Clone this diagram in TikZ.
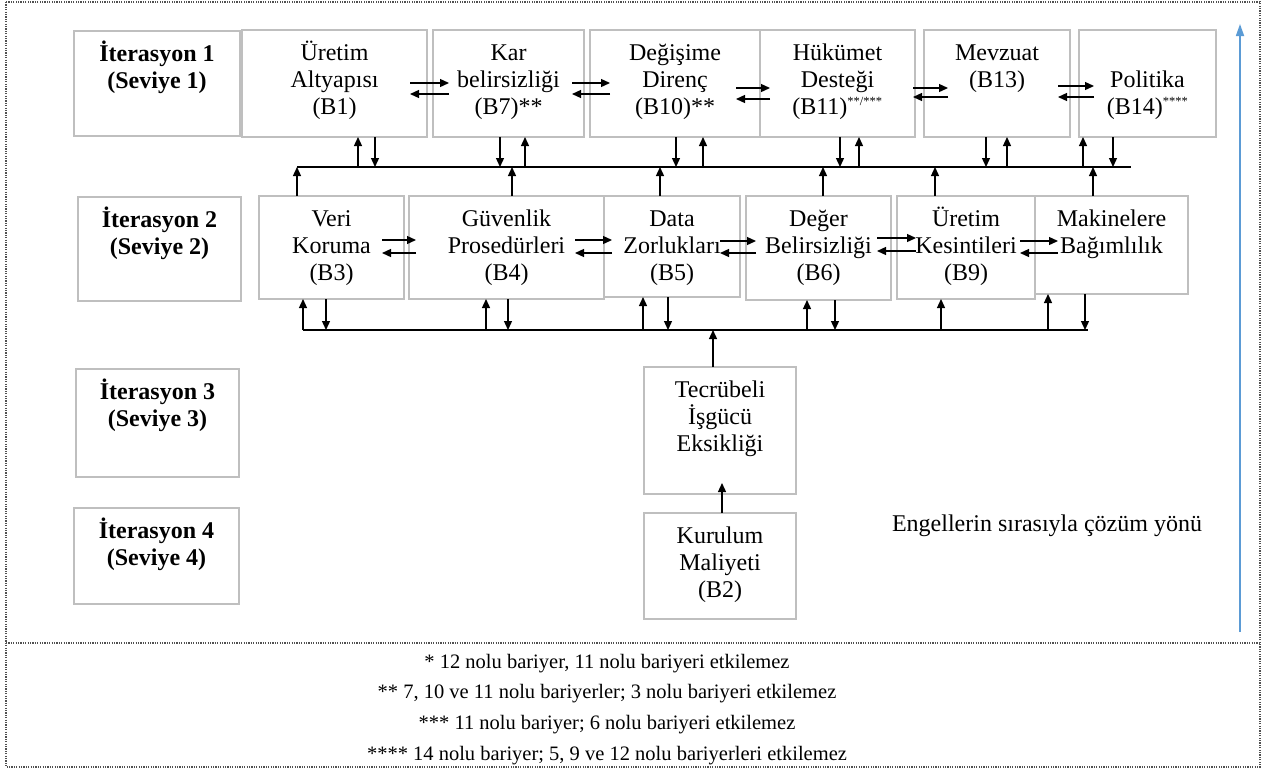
\documentclass[tikz,border=0pt]{standalone}
\usepackage{fontspec}
\setmainfont{Liberation Serif}
\usetikzlibrary{arrows.meta,calc}
\definecolor{boxgray}{RGB}{191,191,191}
\definecolor{dotgray}{RGB}{80,80,80}
\definecolor{upblue}{RGB}{91,155,213}
\newcommand\mfs{\fontsize{24}{27.3}\selectfont}
\newcommand\ffs{\fontsize{20.5}{30.6}\selectfont}
\newcommand\sst[1]{\textsuperscript{\fontsize{12.5}{12.5}\selectfont #1}}
% box: [style]{name}{x}{y}{w}{h}{text}
\newcommand\bx[7][box]{\node[#1] (#2) at (#3,#4) {\parbox[c][#6pt][t]{#5pt}{\centering\rule{0pt}{30pt}#7}};}
% pair of horizontal arrows between two neighbouring boxes
\newcommand\hpair[6]{%
  \path (0,#3) coordinate (hy1) (0,#4) coordinate (hy2);
  \draw[arr] ($(#1.east |- hy1)+(-#5,0)$) -- ($(#2.west |- hy1)+(#6,0)$);
  \draw[arr] ($(#2.west |- hy2)+(#6,0)$) -- ($(#1.east |- hy2)+(-#5,0)$);}
% vertical arrows
\newcommand\vdn[3]{\path (#2,0) coordinate (vx); \draw[arr] (vx |- #1.south) -- (vx |- #3);}
\newcommand\vup[3]{\path (#2,0) coordinate (vx); \draw[arr] (vx |- #3) -- (vx |- #1.south);}
\newcommand\vupn[3]{\path (#2,0) coordinate (vx); \draw[arr] (vx |- #1.north) -- (vx |- #3);}
\begin{document}
\begin{tikzpicture}[x=1pt,y=-1pt,
  box/.style={draw=boxgray,line width=1.5pt,anchor=north west,inner sep=0pt,outer sep=0pt,font=\mfs},
  lbl/.style={box,font=\mfs\bfseries},
  arr/.style={line width=1.3pt,-{Triangle[length=9pt,width=8pt]}},
  busline/.style={line width=1.5pt},
  framed/.style={draw=dotgray,line width=1.2pt,dash pattern=on 1.2pt off 1.2pt},
  bluearr/.style={draw=upblue,line width=1.6pt,-{Triangle[length=12pt,width=8pt]}}]
\useasboundingbox (0,0) rectangle (1263,769);

% outer dotted frame and separator
\draw[framed] (6,2) rectangle (1260,767);
\coordinate (sepL) at (6,643);
\coordinate (sepR) at (1260,643);
\draw[framed] (sepL) -- (sepR);

% iteration labels
\bx[lbl]{it1}{74}{31}{166}{105}{İterasyon 1\\(Seviye 1)}
\bx[lbl]{it2}{78}{197}{163}{104}{İterasyon 2\\(Seviye 2)}
\bx[lbl]{it3}{76}{369}{163}{108}{İterasyon 3\\(Seviye 3)}
\bx[lbl]{it4}{74}{508}{165}{96}{İterasyon 4\\(Seviye 4)}

% row 1
\bx{b1}{242}{30}{185}{107}{Üretim\\Altyapısı\\(B1)}
\bx{b7}{433}{30}{151}{107}{Kar\\belirsizliği\\(B7)**}
\bx{b10}{590}{30}{170}{107}{Değişime\\Direnç\\(B10)**}
\bx{b11}{760}{30}{155}{107}{Hükümet\\Desteği\\(B11)\sst{**/***}}
\bx{b13}{924}{30}{146}{107}{Mevzuat\\(B13)}
\bx{b14}{1079}{30}{137}{107}{\\Politika\\(B14)\sst{****}}

% row 2
\bx{b3}{259}{196}{145}{103}{Veri\\Koruma\\(B3)}
\bx{b4}{409}{196}{195}{103}{Güvenlik\\Prosedürleri\\(B4)}
\bx{b5}{604}{196}{136}{101}{Data\\Zorlukları\\(B5)}
\bx{b6}{746}{196}{145}{104}{Değer\\Belirsizliği\\(B6)}
\bx{b9}{897}{196}{138}{103}{Üretim\\Kesintileri\\(B9)}
\bx{mak}{1035}{196}{153}{98}{Makinelere\\Bağımlılık}

% rows 3 and 4
\bx{tec}{644}{367}{152}{127}{Tecrübeli\\İşgücü\\Eksikliği}
\bx{kur}{644}{513}{152}{106}{Kurulum\\Maliyeti\\(B2)}

% horizontal arrow pairs
\hpair{b1}{b7}{83}{94}{17}{16}
\hpair{b7}{b10}{83}{94}{12}{20}
\hpair{b10}{b11}{88}{99}{24}{10}
\hpair{b11}{b13}{88}{97}{2}{24}
\hpair{b13}{b14}{86}{97}{12}{15}
\hpair{b3}{b4}{240}{253}{22}{7}
\hpair{b4}{b5}{240}{253}{29}{8}
\hpair{b5}{b6}{241}{253}{20}{10}
\hpair{b6}{b9}{238}{251}{14}{19}
\hpair{b9}{mak}{241}{253}{15}{23}

% bus 1
\coordinate (bus1w) at (297,167);
\coordinate (bus1e) at (1131,167);
\draw[busline] (bus1w) -- (bus1e);
\vup{b1}{358}{bus1w}
\vdn{b1}{375}{bus1w}
\vdn{b7}{500}{bus1w}
\vup{b7}{525}{bus1w}
\vdn{b10}{676}{bus1w}
\vup{b10}{703}{bus1w}
\vdn{b11}{840}{bus1w}
\vup{b11}{859}{bus1w}
\vdn{b13}{986}{bus1w}
\vup{b13}{1007}{bus1w}
\vup{b14}{1083}{bus1w}
\vdn{b14}{1113}{bus1w}
\vupn{b3}{297}{bus1w}
\vupn{b4}{512}{bus1w}
\vupn{b5}{660}{bus1w}
\vupn{b6}{823}{bus1w}
\vupn{b9}{935}{bus1w}
\vupn{mak}{1093}{bus1w}

% bus 2
\coordinate (bus2w) at (303,330);
\coordinate (bus2e) at (1088,330);
\draw[busline] (bus2w) -- (bus2e);
\vup{b3}{303}{bus2w}
\vdn{b3}{326}{bus2w}
\vup{b4}{486}{bus2w}
\vdn{b4}{508}{bus2w}
\vup{b5}{643}{bus2w}
\vdn{b5}{668}{bus2w}
\vup{b6}{807}{bus2w}
\vdn{b6}{835}{bus2w}
\vup{b9}{941}{bus2w}
\vup{mak}{1048}{bus2w}
\vdn{mak}{1085}{bus2w}
\vupn{tec}{713}{bus2w}

% Kurulum -> Tecrubeli
\path (722,0) coordinate (kx);
\draw[arr] (kx |- kur.north) -- ($(kx |- tec.south)+(0,-11)$);

% direction arrow and label
\coordinate (blueS) at (1240,632);
\coordinate (blueE) at (1240,24);
\draw[bluearr] (blueS) -- (blueE);
\node[font=\mfs,anchor=base,inner sep=0pt] (dir) at (1047,531) {Engellerin sırasıyla çözüm yönü};

% notes
\node[anchor=north,inner sep=0pt] (notes) at (607,643) {\parbox[c][120pt][t]{800pt}{\centering\ffs\rule{0pt}{25pt}* 12 nolu bariyer, 11 nolu bariyeri etkilemez\\[0pt]
** 7, 10 ve 11 nolu bariyerler; 3 nolu bariyeri etkilemez\\[0pt]
*** 11 nolu bariyer; 6 nolu bariyeri etkilemez\\[0pt]
**** 14 nolu bariyer; 5, 9 ve 12 nolu bariyerleri etkilemez}};
\end{tikzpicture}
\end{document}
